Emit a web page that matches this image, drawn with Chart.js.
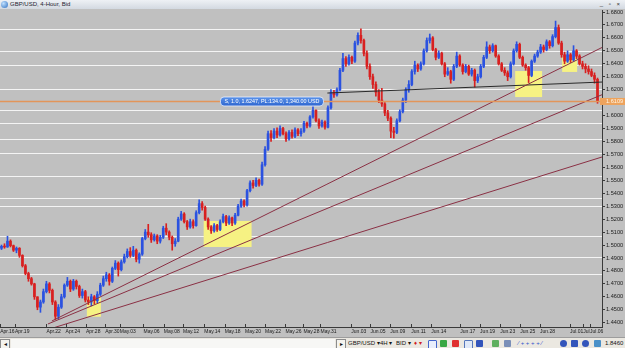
<!DOCTYPE html>
<html>
<head>
<meta charset="utf-8">
<script src="https://cdn.jsdelivr.net/npm/chart.js@4.4.0/dist/chart.umd.min.js"></script>
<style>
  html, body { margin: 0; padding: 0; width: 625px; height: 348px; overflow: hidden; background: #c0c0c0; font-family: 'Liberation Sans', Arial, sans-serif; }
  #title { position: absolute; left: 0; top: 0; width: 625px; height: 9px; background: linear-gradient(#eef1f5, #d3d9e1); color: #1c2430; font-size: 6px; line-height: 9px; }
  #title .ico { position: absolute; left: 1px; top: 1px; width: 7px; height: 7px; border-radius: 50%; background: radial-gradient(circle at 35% 35%, #bfe0ff, #2f6fc0); }
  #title .txt { position: absolute; left: 10px; top: 0; }
  #title .btns { position: absolute; right: 3px; top: 0; letter-spacing: 2px; color: #333; }
  #wrap { position: absolute; left: 0; top: 9px; width: 625px; height: 328px; }
  #bar { position: absolute; left: 0; top: 337px; width: 625px; height: 11px; background: #ebe8e1; border-top: 1px solid #9d9d9d; font-size: 6px; line-height: 11px; color: #111; }
  #bar span { position: absolute; top: 0; }
  #bar .sb { top: 1px; width: 8px; height: 8px; line-height: 8px; text-align: center; background: #f4f3ee; border: 1px solid #8c8c8c; font-size: 6px; }
  #bar .track { left: 11px; top: 1px; width: 324px; height: 9px; background: #f7f7f5; }
  #bar .ic { top: 2px; width: 7px; height: 7px; border-radius: 1px; }
</style>
</head>
<body>
<div id="title"><span class="ico"></span><span class="txt">GBP/USD, 4-Hour, Bid</span><span class="btns">_ ▫ ×</span></div>
<div id="wrap"><canvas id="chart" width="625" height="328"></canvas></div>
<div id="bar">
  <span class="sb" style="left:0">◂</span>
  <span class="track"></span>
  <span class="sb" style="left:336px">▸</span>
  <span style="left:348px">GBP/USD ▾</span>
  <span style="left:380px">4H ▾</span>
  <span style="left:396px">BID ▾</span>
  <span style="left:414px;color:#d02020">♦ ▾</span>
  <span class="ic" style="left:428px;background:#e8eefc;border:1px solid #4466cc"></span>
  <span class="ic" style="left:440px;background:#39a845"></span>
  <span class="ic" style="left:452px;background:#e03030"></span>
  <span class="ic" style="left:464px;background:#dfe8f8;border:1px solid #5577bb"></span>
  <span class="ic" style="left:476px;background:#3355bb"></span>
  <span class="ic" style="left:492px;background:#5fb060"></span>
  <span class="ic" style="left:504px;background:#7a8fb8"></span>
  <span style="left:518px;color:#3355cc">⁄ + + + + ⁄</span>
  <span class="ic" style="left:560px;background:#3355bb;border-radius:50%"></span>
  <span class="ic" style="left:571px;background:#3355bb"></span>
  <span class="ic" style="left:582px;background:#3355bb;border-radius:50%"></span>
  <span class="ic" style="left:594px;background:#4a90c8"></span>
  <span style="left:605px">1.8460 ▾</span>
</div>
<script>
// 4-hour GBP/USD candles, prices in pips above 1.4000 (open = previous close)
const firstOpen = 975;
const closes = [
  990, 985, 1030, 995, 960, 975, 920, 840, 780, 740,
  700, 600, 520, 560, 640, 700, 650, 560, 450, 520,
  600, 690, 720, 660, 720, 680, 610, 640, 575, 560,
  600, 570, 620, 690, 740, 770, 720, 820, 860, 810,
  870, 910, 950, 920, 960, 890, 930, 1050, 1100, 1080,
  1040, 1070, 1030, 1060, 1130, 1100, 1060, 1010, 1030, 1200,
  1240, 1180, 1140, 1180, 1150, 1250, 1320, 1290, 1200, 1140,
  1110, 1150, 1120, 1180, 1220, 1170, 1210, 1170, 1230, 1300,
  1340, 1310, 1420, 1480, 1460, 1500, 1470, 1620, 1740, 1860,
  1830, 1880, 1850, 1900, 1860, 1820, 1870, 1840, 1890, 1860,
  1880, 1940, 1920, 1990, 2040, 1960, 1920, 1950, 1910, 2060,
  2180, 2160, 2200, 2350, 2440, 2400, 2450, 2420, 2560, 2620,
  2580, 2480, 2380, 2300, 2240, 2180, 2120, 2090, 2020, 1980,
  1880, 1870, 1960, 2030, 2120, 2200, 2240, 2340, 2390, 2360,
  2400, 2500, 2580, 2600, 2510, 2450, 2480, 2400, 2320, 2340,
  2280, 2380, 2460, 2390, 2340, 2380, 2320, 2350, 2270, 2300,
  2380, 2450, 2530, 2500, 2540, 2460, 2400, 2350, 2330, 2300,
  2400, 2500, 2550, 2450, 2390, 2370, 2310, 2420, 2460, 2490,
  2530, 2510, 2570, 2540, 2610, 2680, 2560, 2470, 2420, 2470,
  2430, 2500, 2460, 2400, 2380, 2360, 2340, 2310, 2280, 2109
];
const highs = [
  1000, 1010, 1068, 1040, 1000, 985, 980, 925, 850, 790,
  750, 705, 600, 575, 660, 720, 710, 660, 570, 540,
  620, 700, 750, 730, 735, 730, 690, 660, 650, 600,
  620, 610, 640, 705, 760, 790, 780, 830, 880, 870,
  885, 930, 970, 980, 990, 970, 940, 1060, 1120, 1160,
  1095, 1085, 1080, 1075, 1145, 1165, 1110, 1070, 1050, 1215,
  1260, 1250, 1190, 1200, 1195, 1265, 1350, 1335, 1300, 1210,
  1150, 1165, 1160, 1195, 1240, 1230, 1225, 1215, 1245, 1315,
  1355, 1350, 1430, 1495, 1500, 1520, 1510, 1640, 1760, 1880,
  1885, 1900, 1905, 1920, 1910, 1875, 1885, 1890, 1905, 1900,
  1900, 1955, 1950, 2000, 2070, 2045, 1975, 1965, 1960, 2075,
  2200, 2195, 2215, 2365, 2480, 2455, 2470, 2460, 2575, 2640,
  2670, 2590, 2500, 2400, 2320, 2260, 2200, 2210, 2100, 2040,
  1990, 1910, 1975, 2045, 2135, 2215, 2270, 2355, 2420, 2400,
  2415, 2515, 2600, 2630, 2610, 2520, 2500, 2490, 2410, 2370,
  2350, 2395, 2490, 2470, 2400, 2395, 2390, 2365, 2360, 2320,
  2395, 2465, 2570, 2545, 2555, 2545, 2470, 2410, 2370, 2345,
  2415, 2515, 2570, 2560, 2460, 2400, 2380, 2430, 2475, 2505,
  2550, 2545, 2585, 2580, 2625, 2730, 2700, 2575, 2490, 2500,
  2480, 2540, 2510, 2470, 2420, 2400, 2385, 2360, 2330, 2290
];
const lows = [
  965, 975, 982, 985, 950, 940, 905, 830, 770, 720,
  690, 580, 500, 480, 550, 630, 630, 540, 425, 430,
  510, 590, 680, 640, 650, 660, 595, 590, 560, 540,
  530, 545, 555, 610, 680, 720, 690, 710, 810, 760,
  800, 860, 900, 905, 910, 870, 860, 920, 1040, 1060,
  1020, 1030, 1010, 1015, 1050, 1080, 1040, 960, 990, 1025,
  1190, 1170, 1120, 1130, 1130, 1145, 1240, 1270, 1190, 1120,
  1090, 1100, 1105, 1110, 1170, 1150, 1160, 1150, 1160, 1225,
  1290, 1295, 1300, 1410, 1440, 1450, 1455, 1460, 1610, 1730,
  1800, 1820, 1830, 1840, 1850, 1800, 1810, 1825, 1830, 1845,
  1840, 1870, 1905, 1910, 1980, 1950, 1900, 1910, 1895, 1905,
  2050, 2140, 2150, 2190, 2340, 2380, 2390, 2400, 2410, 2545,
  2560, 2460, 2360, 2280, 2210, 2150, 2100, 2070, 2000, 1960,
  1830, 1825, 1860, 1950, 2020, 2100, 2180, 2230, 2320, 2340,
  2350, 2390, 2490, 2560, 2500, 2430, 2440, 2390, 2300, 2310,
  2250, 2270, 2370, 2380, 2320, 2330, 2310, 2305, 2220, 2255,
  2290, 2370, 2440, 2480, 2490, 2450, 2390, 2340, 2310, 2270,
  2290, 2390, 2490, 2440, 2380, 2350, 2255, 2300, 2410, 2450,
  2480, 2490, 2500, 2520, 2530, 2600, 2550, 2450, 2400, 2410,
  2410, 2420, 2440, 2390, 2360, 2330, 2320, 2300, 2250, 2095
];

// axis labels
const yTicks = [1.44, 1.45, 1.46, 1.47, 1.48, 1.49, 1.50, 1.51, 1.52, 1.53, 1.54, 1.55, 1.56,
                1.57, 1.58, 1.59, 1.60, 1.61, 1.62, 1.63, 1.64, 1.65, 1.66, 1.67, 1.68];
const xTickLabels = ['Apr.16', 'Apr.19', 'Apr.22', 'Apr.24', 'Apr.28', 'Apr.30', 'May.03', 'May.06', 'May.08',
  'May.12', 'May.14', 'May.18', 'May.20', 'May.22', 'May.26', 'May.28', 'May.31', 'Jun.03', 'Jun.05',
  'Jun.09', 'Jun.11', 'Jun.14', 'Jun.17', 'Jun.19', 'Jun.23', 'Jun.25', 'Jun.28', 'Jul.01', 'Jul.03', 'Jul.06'];
const xTickIdx = [-0.45, 4.5, 15.0, 21.4, 28.2, 34.6, 39.5, 47.4, 54.2, 60.6, 67.7, 74.5, 81.3, 88.0, 94.8,
  100.8, 106.5, 116.8, 123.2, 129.8, 136.8, 143.5, 153.2, 159.8, 166.5, 173.2, 179.8, 189.8, 194.2, 196.5];

// drawn objects: horizontal levels, trend lines [bar, price], highlight boxes [bar0, bar1, priceLow, priceHigh]
const hLevels = [1.6669, 1.6497, 1.6389, 1.6206, 1.6042, 1.5942, 1.5821, 1.5711, 1.5533, 1.5362, 1.5300, 1.5073, 1.4906, 1.4778];
const bidPrice = 1.6109;
const tradeText = 'S, 1.0, 1.6247, PL:134.0, 1,340.00 USD';
const trendSteep = [[16.8, 1.4413], [200.5, 1.6526]];
const trendMid = [[15.5, 1.4390], [200.5, 1.6161]];
const trendLow = [[15.5, 1.4347], [200.5, 1.5680]];
const trendFlat = [[108.8, 1.6174], [200.5, 1.6259]];
const boxes = [[28.5, 33.2, 1.4446, 1.4596], [67.5, 83.5, 1.4985, 1.5186], [171.5, 180.5, 1.6143, 1.6344], [187.2, 192.2, 1.6337, 1.6452]];

const FONT = "'Liberation Sans', Arial, sans-serif";
const px = n => 1.4 + n / 10000;
const opens = closes.map((c, i) => i === 0 ? firstOpen : closes[i - 1]);
const colors = closes.map((c, i) => c >= opens[i] ? '#2b52e0' : '#d82020');
const bodies = closes.map((c, i) => ({ x: i, y: [px(opens[i]), px(c)] }));
const wicks = closes.map((c, i) => ({ x: i, y: [px(lows[i]), px(highs[i])] }));
const toPts = arr => arr.map(p => ({ x: p[0], y: p[1] }));

const overlay = {
  id: 'overlay',
  beforeDatasetsDraw(chart) {
    const { ctx, chartArea: a, scales: { x, y } } = chart;
    ctx.save();
    ctx.beginPath(); ctx.rect(a.left, a.top, a.right - a.left, a.bottom - a.top); ctx.clip();
    ctx.strokeStyle = '#f4f4f4'; ctx.lineWidth = 1;
    hLevels.forEach(v => {
      const py = Math.round(y.getPixelForValue(v)) + 0.5;
      ctx.beginPath(); ctx.moveTo(a.left, py); ctx.lineTo(a.right, py); ctx.stroke();
    });
    boxes.forEach(b => {
      const x0 = x.getPixelForValue(b[0]), x1 = x.getPixelForValue(b[1]);
      const y0 = y.getPixelForValue(b[3]), y1 = y.getPixelForValue(b[2]);
      ctx.fillStyle = '#f6f283';
      ctx.fillRect(x0, y0, x1 - x0, y1 - y0);
    });
    ctx.restore();
  },
  afterDatasetsDraw(chart) {
    const { ctx, chartArea: a, scales: { x, y } } = chart;
    const py = y.getPixelForValue(bidPrice);
    ctx.save();
    ctx.strokeStyle = '#e2955a'; ctx.lineWidth = 1.5;
    ctx.beginPath(); ctx.moveTo(a.left, py); ctx.lineTo(a.right, py); ctx.stroke();
    // trade label
    ctx.font = '5.4px ' + FONT;
    const w = ctx.measureText(tradeText).width + 8;
    const xr = x.getPixelForValue(107.5), xl = xr - w;
    ctx.beginPath();
    ctx.roundRect(xl, py - 4.5, w, 9, 3.5);
    const g = ctx.createLinearGradient(0, py - 4.5, 0, py + 4.5);
    g.addColorStop(0, '#5b93ea'); g.addColorStop(1, '#2f66cf');
    ctx.fillStyle = g; ctx.fill();
    ctx.strokeStyle = '#e8f0ff'; ctx.lineWidth = 0.8; ctx.stroke();
    ctx.fillStyle = '#ffffff'; ctx.textBaseline = 'middle'; ctx.textAlign = 'left';
    ctx.fillText(tradeText, xl + 4, py + 0.3);
    // bid price box on the axis
    ctx.fillStyle = '#eea35c';
    ctx.fillRect(a.right - 2, py - 3.5, 25, 7);
    ctx.fillStyle = '#fff6e6'; ctx.font = '5.6px ' + FONT;
    ctx.fillText(bidPrice.toFixed(4), a.right + 4, py + 0.3);
    ctx.restore();
  },
  afterDraw(chart) {
    const { ctx, chartArea: a, scales: { x } } = chart;
    ctx.save();
    ctx.strokeStyle = '#3a3a3a'; ctx.lineWidth = 1;
    xTickIdx.forEach(v => {
      const p = Math.round(x.getPixelForValue(v)) + 0.5;
      ctx.beginPath(); ctx.moveTo(p, a.bottom - 3); ctx.lineTo(p, a.bottom); ctx.stroke();
    });
    ctx.restore();
  }
};

const lineStyle = (data, color) => ({
  type: 'line', data: toPts(data), borderColor: color, borderWidth: 1,
  pointRadius: 0, tension: 0, order: 0
});

new Chart(document.getElementById('chart'), {
  type: 'bar',
  data: {
    datasets: [
      lineStyle(trendSteep, '#8a3044'),
      lineStyle(trendMid, '#8a3044'),
      lineStyle(trendLow, '#8a3044'),
      lineStyle(trendFlat, '#2a2a2a'),
      { type: 'bar', data: wicks, backgroundColor: colors, barThickness: 1, grouped: false, borderWidth: 0, order: 3 },
      { type: 'bar', data: bodies, backgroundColor: colors, barThickness: 2, minBarLength: 1, grouped: false, borderWidth: 0, order: 2 }
    ]
  },
  options: {
    responsive: false,
    devicePixelRatio: 1,
    animation: false,
    layout: { padding: { top: 1, left: 0, right: 0, bottom: 0 } },
    plugins: { legend: { display: false }, tooltip: { enabled: false } },
    scales: {
      x: {
        type: 'linear', min: -0.5, max: 200.5, offset: false,
        grid: { display: false, drawTicks: false },
        border: { display: true, color: '#3a3a3a', width: 1 },
        ticks: {
          autoSkip: false, maxRotation: 0, minRotation: 0, align: 'start', padding: 2,
          color: '#1a1a1a', font: { size: 5, family: FONT },
          showLabelBackdrop: true, backdropColor: '#c0c0c0', backdropPadding: 0,
          callback: (v, i) => xTickLabels[i]
        },
        afterBuildTicks: s => { s.ticks = xTickIdx.map(v => ({ value: v })); },
        afterFit: s => { s.height = 10; s.paddingLeft = 0; s.paddingRight = 0; }
      },
      y: {
        type: 'linear', position: 'right', min: 1.43668, max: 1.68155,
        grid: { drawOnChartArea: false, drawTicks: true, tickLength: 3, color: '#3a3a3a' },
        border: { display: true, color: '#3a3a3a', width: 1 },
        ticks: { padding: 1, color: '#1a1a1a', font: { size: 5.6, family: FONT }, callback: v => v.toFixed(4) },
        afterBuildTicks: s => { s.ticks = yTicks.map(v => ({ value: v })); },
        afterFit: s => { s.width = 23; s.paddingTop = 0; s.paddingBottom = 0; }
      }
    }
  },
  plugins: [overlay]
});
</script>
</body>
</html>
